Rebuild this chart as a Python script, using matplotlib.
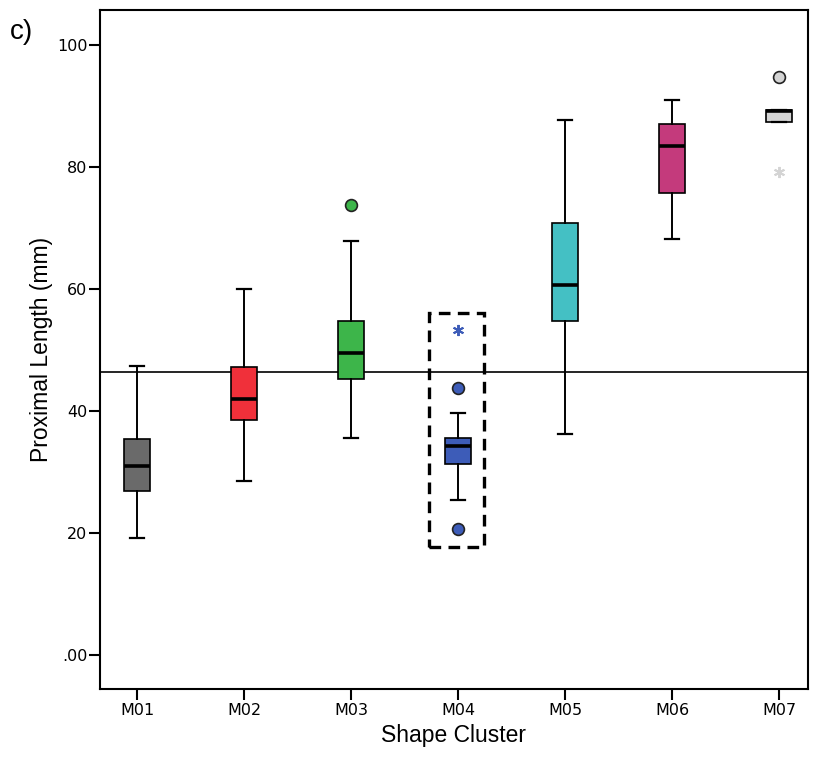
import matplotlib
matplotlib.use("Agg")
import matplotlib.pyplot as plt
from matplotlib.patches import Rectangle

categories = ['M01', 'M02', 'M03', 'M04', 'M05', 'M06', 'M07']
q1 = [26.9, 38.5, 45.2, 31.3, 54.8, 75.7, 87.3]
medians = [30.9, 42.0, 49.4, 34.3, 60.7, 83.4, 89.1]
q3 = [35.4, 47.1, 54.8, 35.5, 70.8, 87.0, 89.3]
whislo = [19.1, 28.5, 35.5, 25.4, 36.2, 68.1, 87.3]
whishi = [47.3, 60.0, 67.8, 39.7, 87.6, 90.9, 89.3]
circle_outliers = [[], [], [73.7], [43.7, 20.6], [], [], [94.7]]
star_outliers = [[], [], [], [53.3], [], [], [79.1]]
colors = ['#6a6a6a', '#f0303a', '#3db54a', '#3d5cb8', '#44c0c4', '#c43a7c', '#d4d4d4']
ref_value = 46.4
yticks = [0, 20, 40, 60, 80, 100]
yticklabels = ['.00', '20', '40', '60', '80', '100']

fig = plt.figure(figsize=(8.15, 7.62), dpi=100)
ax = fig.add_axes([0.1227, 0.0958, 0.8687, 0.8911])

stats = []
for i, c in enumerate(categories):
    stats.append(dict(label=c, q1=q1[i], med=medians[i], q3=q3[i],
                      whislo=whislo[i], whishi=whishi[i], fliers=[]))
pos = list(range(1, len(categories) + 1))
bp = ax.bxp(stats, positions=pos, widths=0.25, patch_artist=True,
            showfliers=False, capwidths=0.125,
            boxprops=dict(edgecolor='black', linewidth=1.2),
            medianprops=dict(color='black', linewidth=2.6),
            whiskerprops=dict(color='black', linewidth=1.4),
            capprops=dict(color='black', linewidth=1.6))
for patch, col in zip(bp['boxes'], colors):
    patch.set_facecolor(col)

for i, p in enumerate(pos):
    if circle_outliers[i]:
        ax.plot([p] * len(circle_outliers[i]), circle_outliers[i], 'o',
                markersize=8.5, markerfacecolor=colors[i],
                markeredgecolor='#222222', markeredgewidth=1.2, zorder=3)
    if star_outliers[i]:
        ax.plot([p] * len(star_outliers[i]), star_outliers[i],
                marker=(6, 2, 0), linestyle='none', markersize=8,
                markeredgewidth=1.4, color=colors[i], zorder=3)

ax.axhline(ref_value, color='black', linewidth=1.2, zorder=1)

# dashed highlight box around M04
ax.add_patch(Rectangle((3.73, 17.75), 0.51, 38.25, fill=False,
                       edgecolor='black', linewidth=2.4,
                       linestyle=(0, (3.5, 2.2)), zorder=4))

ax.set_xlim(0.654, 7.27)
ax.set_ylim(-5.6, 105.7)
ax.set_xticks(pos)
ax.set_xticklabels(categories, fontsize=11.5)
ax.set_yticks(yticks)
ax.set_yticklabels(yticklabels, fontsize=11.5)
ax.tick_params(direction='out', length=8, width=1.5)
ax.tick_params(axis='y', pad=1)
ax.tick_params(axis='x', pad=2)
for s in ax.spines.values():
    s.set_linewidth(1.5)

ax.set_xlabel('Shape Cluster', fontsize=16.5, family='Liberation Sans')
ax.set_ylabel('Proximal Length (mm)', fontsize=16.5, family='Liberation Sans')
ax.xaxis.set_label_coords(0.5, -0.052)
ax.yaxis.set_label_coords(-0.066, 0.5)

fig.text(0.012, 0.975, 'c)', fontsize=20, family='Liberation Sans', va='top', ha='left')

fig.savefig('out.png', dpi=100)
